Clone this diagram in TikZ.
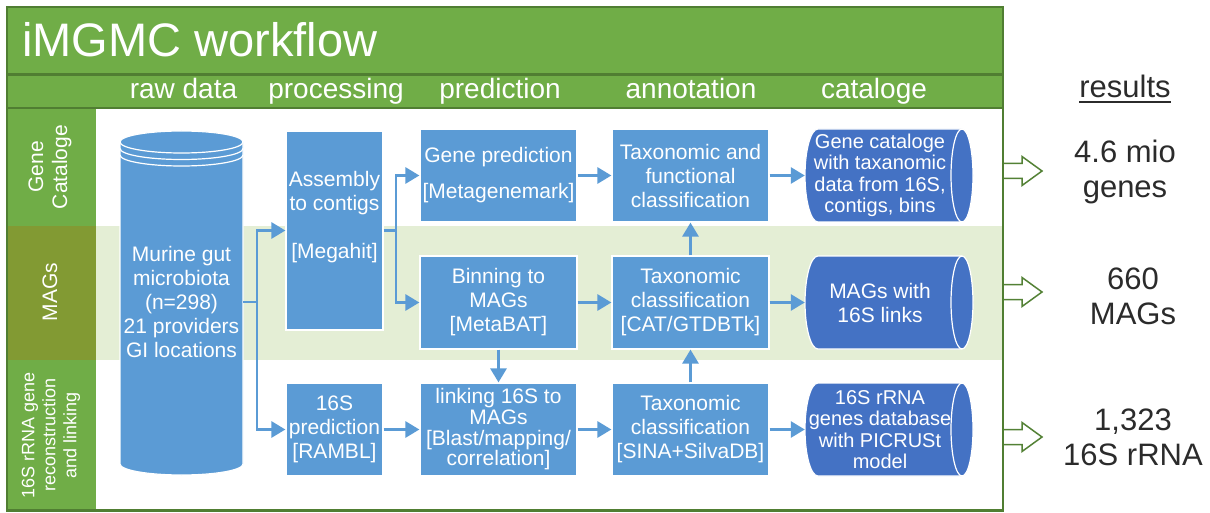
\documentclass[tikz,border=0pt]{standalone}
\usepackage{fontspec}
\setmainfont{Liberation Sans}
\usetikzlibrary{arrows.meta}
\definecolor{hgreen}{HTML}{70AD47}
\definecolor{dgreen}{HTML}{507E32}
\definecolor{olive}{HTML}{829A33}
\definecolor{band}{HTML}{E4EED5}
\definecolor{bblue}{HTML}{5B9BD5}
\definecolor{cblue}{HTML}{4472C4}
\definecolor{rgray}{HTML}{2B2B2B}
\definecolor{agreen}{HTML}{538135}
\begin{document}
\begin{tikzpicture}[x=1pt,y=-1pt,
  box/.style={rectangle, fill=bblue, draw=white, line width=1.2pt, text=white, align=center, inner sep=0pt, font=\fontsize{21}{24}\selectfont},
  flow/.style={draw=bblue, line width=2.8pt, line join=miter, -{Triangle[length=14pt,width=16pt]}},
  hdr/.style={text=white, inner sep=0pt, anchor=base, font=\fontsize{28}{32}\selectfont},
  lane/.style={text=white, align=center, inner sep=0pt, rotate=90},
  cattext/.style={text=white, align=center, inner sep=0pt, minimum width=150pt},
  res/.style={text=rgray, align=center, inner sep=0pt, font=\fontsize{31}{35}\selectfont},
  resarrow/.style={draw=agreen, fill=white, line width=1.5pt, line join=miter},
  cylline/.style={white, line width=1.2pt}
]
\useasboundingbox (0,0) rectangle (1210,513);

% backgrounds
\fill[band] (96,226) rectangle (1003,360);
\fill[hgreen] (7,7) rectangle (1003,108);
\fill[hgreen] (7,108) rectangle (96,226);
\fill[olive] (7,226) rectangle (96,360);
\fill[hgreen] (7,360) rectangle (96,510);
\draw[dgreen,line width=2.2pt] (7,74.5) -- (1003,74.5);
\draw[dgreen,line width=2.2pt] (7,108) -- (1003,108);

% title and headers
\node[text=white, inner sep=0pt, anchor=base west, font=\fontsize{47}{50}\selectfont] (title) at (22,57) {iMGMC workflow};
\node[hdr] (h1) at (183.5,99) {raw data};
\node[hdr] (h2) at (336,99) {processing};
\node[hdr] (h3) at (500,99) {prediction};
\node[hdr] (h4) at (691,99) {annotation};
\node[hdr] (h5) at (874,99) {cataloge};

% lane labels
\node[lane, font=\fontsize{21}{24}\selectfont] (lgc) at (50,167) {Gene\\Cataloge};
\node[lane, font=\fontsize{21}{24}\selectfont] (lmag) at (50,292) {MAGs};
\node[lane, font=\fontsize{18}{21}\selectfont] (l16) at (51,435) {16S rRNA gene\\reconstruction\\and linking};

% raw data cylinder
\path[fill=bblue, draw=white, line width=1.2pt] (120,142) -- (120,464) arc[start angle=180, end angle=0, x radius=61.5, y radius=11] -- (243,142) -- cycle;
\path[fill=bblue, draw=white, line width=1.2pt] (181.5,142) ellipse [x radius=61.5, y radius=11];
\draw[cylline] (120,148.5) arc[start angle=180, end angle=0, x radius=61.5, y radius=11];
\draw[cylline] (120,155) arc[start angle=180, end angle=0, x radius=61.5, y radius=11];
\node[text=white, align=center, inner sep=0pt, minimum width=123pt, minimum height=300pt, font=\fontsize{21}{24}\selectfont] (raw) at (181.5,302) {Murine gut\\microbiota\\(n=298)\\21 providers\\GI locations};

% process boxes
\node[box, minimum width=97pt, minimum height=199pt] (asm) at (334.5,230.5) {Assembly\\to contigs\\\strut\\{[Megahit]}\\\strut};
\node[box, minimum width=97pt, minimum height=92pt] (pred16) at (334.5,429.5) {16S\\prediction\\{[RAMBL]}};
\node[box, minimum width=157pt, minimum height=93pt] (gp) at (498.5,175.5) {Gene prediction\\[12pt]{[Metagenemark]}};
\node[box, minimum width=157pt, minimum height=93pt] (tf) at (690.5,175.5) {Taxonomic and\\functional\\classification};
\node[box, minimum width=157pt, minimum height=93pt] (bin) at (498.5,302.5) {Binning to\\MAGs\\{[MetaBAT]}};
\node[box, minimum width=157pt, minimum height=93pt] (tc) at (690.5,302.5) {Taxonomic\\classification\\{[CAT/GTDBTk]}};
\node[box, minimum width=157pt, minimum height=93pt, font=\fontsize{21}{20.7}\selectfont] (link) at (498.5,429.5) {linking 16S to\\MAGs\\{[Blast/mapping/}\\correlation]};
\node[box, minimum width=157pt, minimum height=93pt] (ts) at (690.5,429.5) {Taxonomic\\classification\\{[SINA+SilvaDB]}};

% catalog cylinders
\foreach \t/\b in {129/222,256/349,383/476}{
  \pgfmathsetmacro\ry{(\b-\t)/2}
  \path[fill=cblue, draw=white, line width=1.2pt] (818,\t) -- (962,\t) arc[start angle=-90, end angle=90, x radius=11, y radius=\ry] -- (818,\b) arc[start angle=90, end angle=270, x radius=13, y radius=\ry] -- cycle;
  \draw[cylline] (962,\t) arc[start angle=-90, end angle=-270, x radius=11, y radius=\ry];
}
\node[cattext, minimum height=93pt, font=\fontsize{20}{21.5}\selectfont] (cat1) at (880,175.5) {Gene cataloge\\with taxanomic\\data from 16S,\\contigs, bins};
\node[cattext, minimum height=93pt, font=\fontsize{21}{24}\selectfont] (cat2) at (880,302.5) {MAGs with\\16S links};
\node[cattext, minimum height=93pt, font=\fontsize{20}{21.5}\selectfont] (cat3) at (880,429.5) {16S rRNA\\genes database\\with PICRUSt\\model};

% connectors
\coordinate (j1) at (257,302);
\coordinate (j2) at (396,230.5);
\draw[flow] (raw.east) -- (j1) |- (asm.west);
\draw[flow] (j1) |- (pred16.west);
\draw[flow] (asm.east) -- (j2) |- (gp.west);
\draw[flow] (j2) |- (bin.west);
\draw[flow] (gp.east) -- (gp.east -| tf.west);
\draw[flow] (bin.east) -- (bin.east -| tc.west);
\draw[flow] (pred16.east) -- (pred16.east -| link.west);
\draw[flow] (link.east) -- (link.east -| ts.west);
\draw[flow] (tf.east) -- (tf.east -| cat1.west);
\draw[flow] (tc.east) -- (tc.east -| cat2.west);
\draw[flow] (ts.east) -- (ts.east -| cat3.west);
\draw[flow] (bin.south) -- (bin.south |- link.north);
\draw[flow] (tc.north) -- (tc.north |- tf.south);
\draw[flow] (ts.north) -- (ts.north |- tc.south);

% results
\node[res, anchor=base] (rt) at (1125,98) {results};
\draw[rgray, line width=1.4pt] ([yshift=-4pt]rt.base west) -- ([yshift=-4pt]rt.base east);
\node[res] (r1) at (1125,172) {4.6 mio\\genes};
\node[res] (r2) at (1133,296) {660\\MAGs};
\node[res] (r3) at (1133,437) {1,323\\16S rRNA};
\foreach \c in {171,292,437}{
  \path[resarrow] (1003,{\c-7.5}) -- (1022,{\c-7.5}) -- (1022,{\c-14.5}) -- (1042,\c) -- (1022,{\c+14.5}) -- (1022,{\c+7.5}) -- (1003,{\c+7.5});
}

% frame
\draw[dgreen,line width=2.5pt] (7,7) rectangle (1003,510.5);
\end{tikzpicture}
\end{document}
